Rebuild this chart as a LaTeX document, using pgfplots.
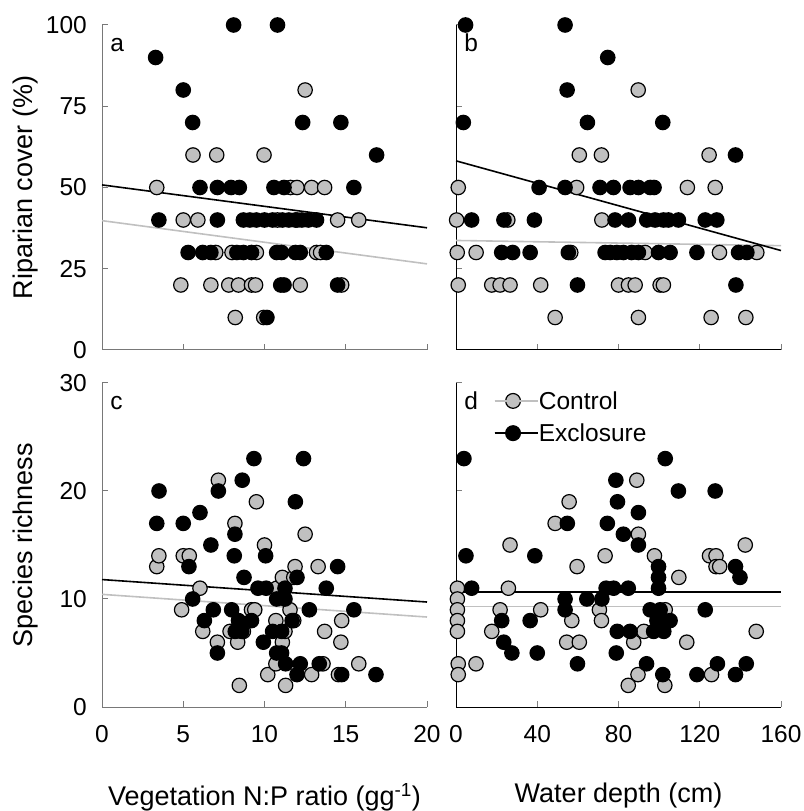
\documentclass[border=0pt]{standalone}
\usepackage{fontspec}
\setmainfont{Liberation Sans}
\usepackage{pgfplots}
\pgfplotsset{compat=1.18}

\definecolor{ctrl}{RGB}{192,192,192}
\definecolor{axgray}{RGB}{120,120,120}

\newcommand{\lblfont}{\fontsize{27bp}{32bp}\selectfont}
\newcommand{\tkfont}{\fontsize{24.5bp}{29bp}\selectfont}

\pgfplotsset{
  panel/.style={
    scale only axis, width=325bp, height=325bp,
    axis x line=bottom, axis y line=left,
    axis line style={-, line width=1bp},
    tick align=inside, major tick length=6bp,
    tick style={line width=1bp},
    clip=false,
    /pgf/number format/assume math mode=true,
    tick label style={font=\tkfont},
    xticklabel style={inner sep=0pt, anchor=north, yshift=-18bp},
    yticklabel style={inner sep=0pt, anchor=east, xshift=-15bp},
    every axis y label/.style={at={([xshift=-69bp]axis description cs:0,0.5)}, rotate=90, anchor=base, font=\lblfont},
  },
  ctrlpts/.style={only marks, mark=*, mark size=7.2bp, mark options={draw=black, fill=ctrl, line width=1.2bp}},
  exclpts/.style={only marks, mark=*, mark size=7.2bp, mark options={draw=black, fill=black, line width=1.2bp}},
  ctrlline/.style={ctrl, line width=1.6bp, no marks},
  exclline/.style={black, line width=1.6bp, no marks},
  leftcol/.style={axis line style={draw=axgray}, tick style={draw=axgray}},
}
\newcommand{\panellabel}[1]{\node[font=\tkfont, anchor=base west, inner sep=0pt] at (rel axis cs:0.025,0.917) {#1};}

\begin{document}
\begin{tikzpicture}
\path[use as bounding box] (0,0) rectangle (804bp,811bp);

% a: riparian cover vs N:P
\begin{axis}[panel, leftcol, at={(102bp,461bp)}, anchor=south west,
  xmin=0, xmax=20, ymin=0, ymax=100,
  xtick={0,5,10,15,20}, xticklabels={},
  ytick={0,25,50,75,100},
  ylabel={Riparian cover (\%)}]
\addplot[ctrlpts] coordinates {
  (12.5,80) (5.6,60) (7.06,60) (9.97,60) (3.37,50) (11.6,50) (12.0,50) (12.9,50) (13.7,50)
  (5.0,40) (5.9,40) (10.8,40) (12.0,40) (14.5,40) (15.8,40)
  (7.0,30) (8.0,30) (9.5,30) (13.2,30) (13.45,30)
  (4.85,20) (6.7,20) (7.8,20) (8.4,20) (9.2,20) (9.45,20) (12.2,20) (14.75,20)
  (8.2,10) (9.95,10)
};
\addplot[exclpts] coordinates {
  (8.1,100) (10.8,100) (3.3,90) (5.0,80) (5.58,70) (12.35,70) (14.7,70) (16.9,60)
  (6.03,50) (7.1,50) (7.94,50) (8.45,50) (10.58,50) (11.2,50) (15.5,50)
  (3.5,40) (7.1,40) (8.7,40) (9.1,40) (9.5,40) (10.0,40) (10.5,40) (11.1,40) (11.5,40)
  (11.9,40) (12.3,40) (12.7,40) (13.2,40)
  (5.3,30) (6.2,30) (6.7,30) (8.3,30) (8.7,30) (9.2,30) (10.75,30) (11.05,30) (11.9,30)
  (12.2,30) (13.8,30)
  (11.0,20) (11.2,20) (14.5,20) (10.15,10)
};
\addplot[ctrlline] coordinates {(0,39.8) (20,26.5)};
\addplot[exclline] coordinates {(0,50.8) (20,37.6)};
\panellabel{a}
\end{axis}

% b: riparian cover vs water depth
\begin{axis}[panel, at={(456bp,461bp)}, anchor=south west,
  xmin=0, xmax=160, ymin=0, ymax=100,
  xtick={0,40,80,120,160}, xticklabels={},
  ytick={0,25,50,75,100}, yticklabels={}]
\addplot[ctrlpts] coordinates {
  (89.7,80) (60.7,60) (71.6,60) (124.6,60)
  (1.1,50) (59.4,50) (113.9,50) (127.6,50)
  (0.3,40) (25.5,40) (71.8,40)
  (0.6,30) (9.9,30) (56.5,30) (93.1,30) (129.7,30) (148.1,30)
  (1.1,20) (17.6,20) (21.7,20) (26.6,20) (41.7,20) (80,20) (84.9,20) (88.2,20) (100.5,20) (102.1,20)
  (48.8,10) (89.8,10) (125.6,10) (142.7,10)
};
\addplot[exclpts] coordinates {
  (4.7,100) (53.7,100) (74.7,90) (54.7,80) (3.6,70) (64.7,70) (101.8,70) (137.6,60)
  (40.9,50) (53.7,50) (70.9,50) (77.5,50) (85.7,50) (89.8,50) (95.6,50) (97.5,50)
  (7.7,40) (23.6,40) (38.6,40) (78.3,40) (84.9,40) (93.9,40) (98,40) (102.1,40) (104.6,40)
  (109.5,40) (122.7,40) (128.4,40)
  (22.5,30) (27.9,30) (36.5,30) (55.3,30) (73.4,30) (75.9,30) (79.2,30) (82.4,30) (86.5,30)
  (89.8,30) (99.7,30) (105.4,30) (118.6,30) (139.1,30) (143.2,30)
  (59.8,20) (137.8,20)
};
\addplot[ctrlline] coordinates {(0,33.7) (160,32.1)};
\addplot[exclline] coordinates {(0,58.2) (160,30.6)};
\panellabel{b}
\end{axis}

% c: species richness vs N:P
\begin{axis}[panel, leftcol, at={(102bp,104bp)}, anchor=south west, height=324bp,
  xmin=0, xmax=20, ymin=0, ymax=30,
  xtick={0,5,10,15,20}, ytick={0,10,20,30},
  ylabel={Species richness},
  xlabel={Vegetation N:P ratio (gg\textsuperscript{-1})},
  every axis x label/.style={at={([yshift=-98bp]axis description cs:0.5,0)}, anchor=base, font=\lblfont}]
\addplot[ctrlpts] coordinates {
  (3.37,13) (3.5,14) (5.0,14) (5.37,14) (6.03,11) (4.9,9) (6.2,7) (7.1,6) (7.16,21)
  (7.88,7) (8.18,17) (8.35,6) (8.45,2) (8.7,7) (9.2,9) (9.4,9) (9.5,19) (10.0,15)
  (10.2,3) (10.7,8) (10.7,4) (10.75,11) (11.1,12) (11.1,6) (11.26,7) (11.3,2) (11.57,9)
  (11.8,12) (11.8,8) (11.88,13) (12.5,16) (12.9,3) (13.3,13) (13.6,4) (13.7,7)
  (14.55,3) (14.7,6) (14.75,8) (15.8,4)
};
\addplot[exclpts] coordinates {
  (3.37,17) (3.51,20) (5.0,17) (5.35,13) (5.58,10) (6.03,18) (6.3,8) (6.7,15) (6.85,9)
  (7.1,5) (7.16,20) (7.98,9) (8.14,14) (8.18,16) (8.2,7) (8.4,8) (8.6,7) (8.63,21)
  (8.74,12) (9.2,8) (9.35,23) (9.6,11) (9.93,6) (10.07,14) (10.1,11) (10.5,7) (10.75,10)
  (10.75,5) (11.05,7) (11.05,5) (11.26,11) (11.26,10) (11.3,4) (11.7,8) (11.9,19)
  (12.0,12) (12.0,3) (12.2,4) (12.4,23) (12.76,9) (13.37,4) (13.8,11) (14.5,13)
  (14.75,3) (15.5,9) (16.86,3)
};
\addplot[ctrlline] coordinates {(0,10.43) (20,8.33)};
\addplot[exclline] coordinates {(0,11.8) (20,9.72)};
\panellabel{c}
\end{axis}

% d: species richness vs water depth
\begin{axis}[panel, at={(456bp,104bp)}, anchor=south west, height=324bp,
  xmin=0, xmax=160, ymin=0, ymax=30,
  xtick={0,40,80,120,160}, ytick={0,10,20,30}, yticklabels={},
  xlabel={Water depth (cm)},
  every axis x label/.style={at={([yshift=-95bp]axis description cs:0.5,0)}, anchor=base, font=\lblfont},
  legend cell align=left,
  legend style={at={(rel axis cs:0.114,0.975)}, anchor=north west, draw=none, fill=none,
    inner sep=0pt, row sep=13bp, nodes={inner sep=0pt},
    font=\tkfont},
  legend image code/.code={
    \draw[mark repeat=2, mark phase=2, #1] plot coordinates {(0bp,0bp) (18.5bp,0bp) (37bp,0bp)};
    \path (0bp,0bp) -- (43bp,0bp);}]
\addlegendimage{color=ctrl, line width=2.6bp, mark=*, mark size=7.4bp, mark options={draw=black, fill=ctrl, line width=1.2bp}}
\addlegendentry{Control}
\addlegendimage{color=black, line width=2.6bp, mark=*, mark size=7.4bp, mark options={draw=black, fill=black, line width=1.2bp}}
\addlegendentry{Exclosure}
\addplot[ctrlpts, forget plot] coordinates {
  (0.7,11) (0.7,10) (0.7,9) (0.7,8) (0.7,7) (1.1,4) (1.1,3) (9.85,4) (17.6,7) (21.7,9)
  (25.8,11) (26.6,15) (41.7,9) (48.8,17) (54.5,6) (55.7,19) (57,8) (59.6,13) (60.7,6)
  (70.6,9) (71.6,8) (73.4,14) (84.8,2) (87.5,6) (89,21) (89.6,3) (89.8,16) (92.5,7)
  (97.7,14) (103,9) (102.8,2) (109.7,12) (113.6,6) (124.8,14) (125.8,3) (128,14)
  (128,13) (129.8,13) (142.4,15) (147.8,7)
};
\addplot[exclpts, forget plot] coordinates {
  (3.9,23) (4.9,14) (7.7,11) (22.5,8) (23.5,6) (27.5,5) (36.5,8) (38.8,14) (40,5)
  (53.7,10) (53.7,9) (54.8,17) (59.8,4) (64.4,10) (71.8,10) (73.9,11) (74.5,17) (77.6,11)
  (78.7,21) (79.4,7) (78.9,5) (79.5,19) (82.4,16) (84.8,11) (85.7,7) (89.8,18) (89.8,15)
  (93.8,4) (95.6,9) (97.3,7) (98.9,8) (99.7,13) (99.7,12) (99.7,11) (100.5,9) (101.8,3)
  (102.1,8) (102.3,7) (103,23) (105.4,8) (109.5,20) (118.6,3) (122.7,9) (127.6,20)
  (128.7,4) (137.6,13) (137.6,3) (139.8,12) (142.9,4)
};
\addplot[ctrlline, forget plot] coordinates {(0,9.32) (160,9.32)};
\addplot[exclline, forget plot] coordinates {(0,10.65) (160,10.65)};
\panellabel{d}
\end{axis}
\end{tikzpicture}
\end{document}
